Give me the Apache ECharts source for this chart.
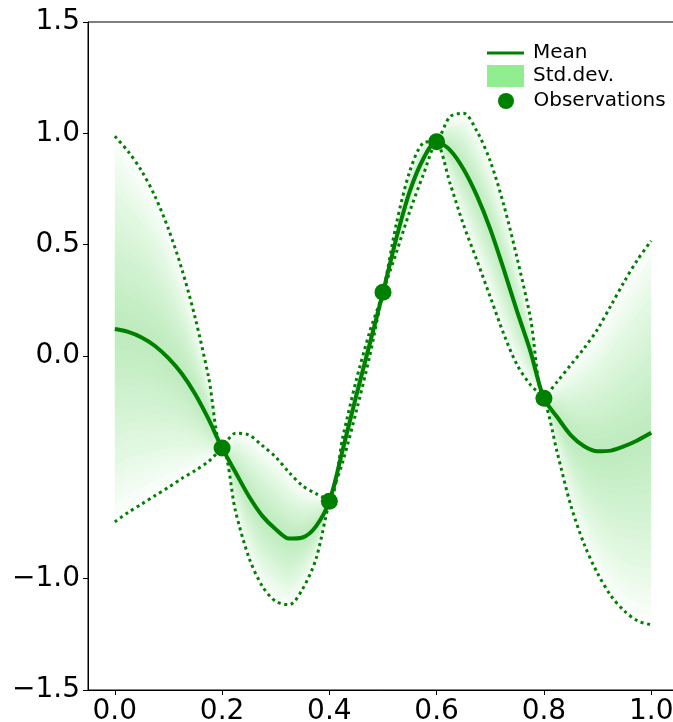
<!DOCTYPE html>
<html>
<head>
<meta charset="utf-8">
<script src="https://cdn.jsdelivr.net/npm/echarts@6/dist/echarts.min.js"></script>
<style>
  html, body { margin: 0; padding: 0; background: #ffffff; }
  #chart { width: 673px; height: 722px; }
</style>
</head>
<body>
<div id="chart"></div>
<script>
// Posterior of the regression model, sampled along x
const xValues = [
  0.000, 0.025, 0.050, 0.075, 0.100, 0.125, 0.150, 0.175, 0.200, 0.225,
  0.250, 0.275, 0.300, 0.325, 0.350, 0.375, 0.400, 0.425, 0.450, 0.475,
  0.500, 0.525, 0.550, 0.575, 0.600, 0.625, 0.650, 0.675, 0.700, 0.725,
  0.750, 0.775, 0.800, 0.825, 0.850, 0.875, 0.900, 0.925, 0.950, 0.975, 1.000
];
const meanValues = [
  0.121, 0.108, 0.083, 0.045, -0.010, -0.080, -0.172, -0.285, -0.413, -0.522,
  -0.630, -0.718, -0.778, -0.820, -0.815, -0.765, -0.652, -0.420, -0.180, 0.052,
  0.286, 0.530, 0.740, 0.885, 0.962, 0.925, 0.840, 0.720, 0.570, 0.390,
  0.200, 0.020, -0.190, -0.275, -0.355, -0.405, -0.428, -0.425, -0.405, -0.378, -0.345
];
// Half-width of the uncertainty band (distance from mean to the dotted bounds)
const bandHalfWidth = [
  0.866, 0.810, 0.748, 0.672, 0.580, 0.470, 0.342, 0.188, 0.005, 0.175,
  0.275, 0.316, 0.324, 0.297, 0.232, 0.147, 0.005, 0.055, 0.070, 0.055,
  0.005, 0.065, 0.090, 0.072, 0.005, 0.150, 0.250, 0.290, 0.305, 0.290,
  0.240, 0.150, 0.005, 0.160, 0.315, 0.440, 0.548, 0.652, 0.740, 0.812, 0.862
];
// Observed samples
const obsX = [0.2, 0.4, 0.5, 0.6, 0.8];
const obsY = [-0.413, -0.652, 0.286, 0.962, -0.190];
// Axis ticks
const xTicks = [0.0, 0.2, 0.4, 0.6, 0.8, 1.0];
const yTicks = [-1.5, -1.0, 0.0, 0.5, 1.0, 1.5];

const GREEN = '#008000';
const FILL = '#90EE90';
const FONT = 'DejaVu Sans';
const LAYERS = 20;
const LAYER_OPACITY = 0.037;
const SMOOTH = 0.3;

const toPairs = (ys) => xValues.map((x, i) => [x, ys[i]]);
const upperValues = meanValues.map((m, i) => m + bandHalfWidth[i]);
const lowerValues = meanValues.map((m, i) => m - bandHalfWidth[i]);

// One item per band layer: [anchor x, anchor y, fraction of the half-width]
const layerItems = [];
for (let k = 1; k <= LAYERS; k++) layerItems.push([0, 0, k / LAYERS]);

// Each layer is a translucent band mean ± f·halfWidth; overlaps are densest at the mean
function renderBand(params, api) {
  const f = api.value(2);
  const top = xValues.map((x, i) => api.coord([x, meanValues[i] + bandHalfWidth[i] * f]));
  const bottom = xValues.map((x, i) => api.coord([x, meanValues[i] - bandHalfWidth[i] * f])).reverse();
  const pts = top.concat(bottom);
  let x0 = Infinity, y0 = Infinity, x1 = -Infinity, y1 = -Infinity;
  pts.forEach(p => {
    x0 = Math.min(x0, p[0]); y0 = Math.min(y0, p[1]);
    x1 = Math.max(x1, p[0]); y1 = Math.max(y1, p[1]);
  });
  return {
    type: 'polygon',
    shape: { points: pts, smooth: SMOOTH, smoothConstraint: [[x0, y0], [x1, y1]] },
    style: { fill: FILL, opacity: LAYER_OPACITY },
    silent: true
  };
}

const series = [
  {
    type: 'custom', name: 'Std.dev.', coordinateSystem: 'cartesian2d',
    data: layerItems, dimensions: ['x', 'y', 'f'], encode: { x: 0, y: 1 },
    renderItem: renderBand, itemStyle: { color: FILL }, z: 1, silent: true
  },
  {
    type: 'line', name: 'upper', data: toPairs(upperValues), symbol: 'none', smooth: SMOOTH,
    lineStyle: { color: GREEN, width: 3, type: [3, 3.6], cap: 'butt' }, z: 4, silent: true
  },
  {
    type: 'line', name: 'lower', data: toPairs(lowerValues), symbol: 'none', smooth: SMOOTH,
    lineStyle: { color: GREEN, width: 3, type: [3, 3.6], cap: 'butt' }, z: 4, silent: true
  },
  {
    type: 'line', name: 'Mean', data: toPairs(meanValues), symbol: 'none', smooth: SMOOTH,
    itemStyle: { color: GREEN }, lineStyle: { color: GREEN, width: 4 }, z: 5, silent: true
  },
  {
    type: 'scatter', name: 'Observations', data: obsX.map((x, i) => [x, obsY[i]]),
    symbol: 'circle', symbolSize: 17, itemStyle: { color: GREEN, opacity: 1 }, z: 6, silent: true
  }
];

const legendText = { fontSize: 20, fontFamily: FONT, color: '#000', lineHeight: 20, padding: [0, 0, 0, 4] };
const fmt = v => (v < 0 ? '\u2212' : '') + Math.abs(v).toFixed(1);

const option = {
  animation: false,
  backgroundColor: '#ffffff',
  grid: {
    left: 88, right: -5, top: 22, bottom: 32, outerBoundsMode: 'none',
    show: true, borderColor: '#000', borderWidth: 1, backgroundColor: 'transparent'
  },
  legend: [
    { data: [{ name: 'Mean', icon: 'rect', itemStyle: { color: GREEN } }],
      left: 487, top: 43, itemWidth: 37, itemHeight: 3, padding: 0, selectedMode: false, textStyle: legendText },
    { data: [{ name: 'Std.dev.', icon: 'rect', itemStyle: { color: FILL, opacity: 1 } }],
      left: 487, top: 65, itemWidth: 37, itemHeight: 22, padding: 0, selectedMode: false, textStyle: legendText },
    { data: [{ name: 'Observations', icon: 'circle', itemStyle: { color: GREEN, opacity: 1 } }],
      left: 498, top: 91, itemWidth: 37, itemHeight: 16, padding: 0, selectedMode: false, textStyle: legendText }
  ],
  xAxis: {
    type: 'value', min: -0.05, max: 1.05,
    axisLine: { show: true, onZero: false, lineStyle: { color: '#000', width: 1 } },
    axisTick: { show: true, length: 5, customValues: xTicks, lineStyle: { color: '#000' } },
    axisLabel: { customValues: xTicks, formatter: fmt, fontSize: 28, fontFamily: FONT, color: '#000', margin: 8 },
    splitLine: { show: false }
  },
  yAxis: {
    type: 'value', min: -1.5, max: 1.5,
    axisLine: { show: true, onZero: false, lineStyle: { color: '#000', width: 1 } },
    axisTick: { show: true, length: 5, customValues: yTicks, lineStyle: { color: '#000' } },
    axisLabel: { customValues: yTicks, formatter: fmt, fontSize: 28, fontFamily: FONT, color: '#000', margin: 8 },
    splitLine: { show: false }
  },
  series: series
};

const chart = echarts.init(document.getElementById('chart'), null, { renderer: 'canvas' });
chart.setOption(option);
</script>
</body>
</html>
